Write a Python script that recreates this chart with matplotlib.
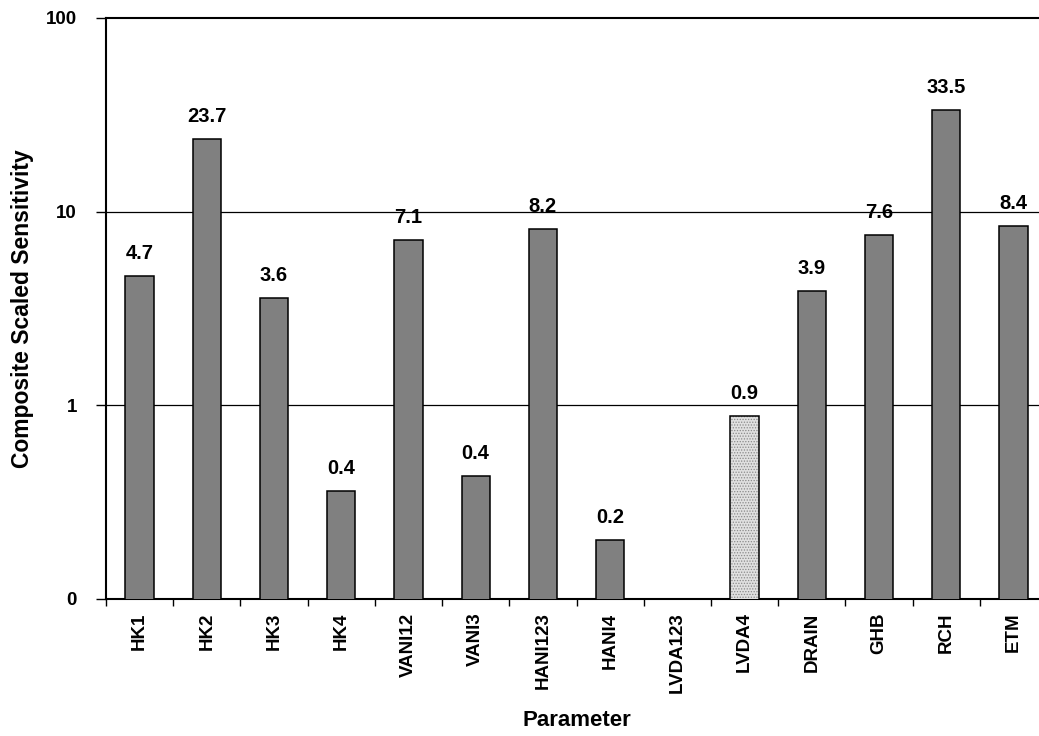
import matplotlib
matplotlib.use("Agg")
import matplotlib.pyplot as plt
import numpy as np

plt.rcParams['font.family'] = ['Liberation Sans', 'DejaVu Sans']
plt.rcParams['hatch.linewidth'] = 0.6

categories = ["HK1", "HK2", "HK3", "HK4", "VANI12", "VANI3", "HANI123",
              "HANI4", "LVDA123", "LVDA4", "DRAIN", "GHB", "RCH", "ETM"]
values = [4.66, 23.7, 3.56, 0.36, 7.1, 0.43, 8.16, 0.2, 0.0, 0.88, 3.9, 7.56, 33.5, 8.4]
value_labels = ["4.7", "23.7", "3.6", "0.4", "7.1", "0.4", "8.2", "0.2", "", "0.9",
                "3.9", "7.6", "33.5", "8.4"]
hatched = ["LVDA4"]
ytick_vals = [0.1, 1, 10, 100]
ytick_labels = ["0", "1", "10", "100"]

fig = plt.figure(figsize=(10.39, 7.36), dpi=100)
ax = fig.add_axes([106/1039, 1-598.5/736, 941/1039, (598.5-18)/736])
ax.set_yscale('log')
ax.set_ylim(0.1, 100)
ax.set_xlim(-0.5, len(categories)-0.5)

x = np.arange(len(categories))
width = 0.42
for xi, cat, v in zip(x, categories, values):
    if v <= 0:
        continue
    if cat in hatched:
        ax.bar(xi, v, width=width, facecolor='#e0e0e0', edgecolor='#8a8a8a',
               hatch='......', linewidth=0, zorder=3)
        ax.bar(xi, v, width=width, facecolor='none', edgecolor='black',
               linewidth=1.1, zorder=4)
    else:
        ax.bar(xi, v, width=width, facecolor='#808080', edgecolor='black',
               linewidth=1.1, zorder=3)

for xi, v, lab in zip(x, values, value_labels):
    if v <= 0 or not lab:
        continue
    ax.annotate(lab, (xi, v), xytext=(0, 12.3), textcoords='offset points',
                ha='center', va='baseline', fontsize=14.5, fontweight='bold')

ax.set_yticks(ytick_vals)
ax.set_yticklabels(ytick_labels, fontsize=13.5, fontweight='bold')
ax.yaxis.set_minor_locator(matplotlib.ticker.NullLocator())
ax.tick_params(axis='y', which='major', direction='out', length=7, width=1.0, pad=14)
for yv in ytick_vals[1:-1]:
    ax.axhline(yv, color='black', linewidth=0.9, zorder=1)

ax.set_xticks(np.arange(len(categories)+1) - 0.5)
ax.set_xticklabels([])
ax.set_xticks(x, minor=True)
ax.set_xticklabels(categories, minor=True, rotation=90, fontsize=13.5, fontweight='bold', va='top')
ax.tick_params(axis='x', which='major', direction='out', length=5, width=1.0)
ax.tick_params(axis='x', which='minor', length=0, pad=10)

for s in ['left', 'bottom', 'top']:
    ax.spines[s].set_linewidth(1.5)
ax.spines['right'].set_visible(False)

ax.set_ylabel("Composite Scaled Sensitivity", fontsize=16.5, fontweight='bold', va='center')
ax.yaxis.set_label_coords(-(106-23)/941, 0.5)
ax.set_xlabel("Parameter", fontsize=16, fontweight='bold', va='center')
ax.xaxis.set_label_coords(0.5, -(720-598.5)/580.5)

fig.savefig("out.png", dpi=100)
